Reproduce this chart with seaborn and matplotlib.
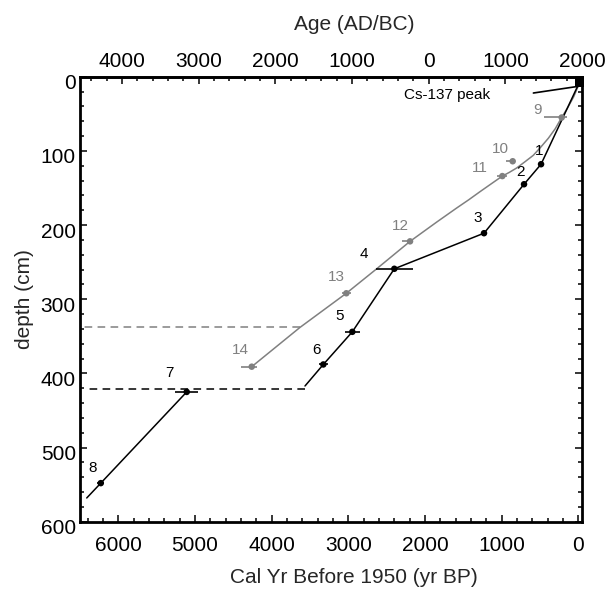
import numpy as np
import pandas as pd
import matplotlib
matplotlib.use("Agg")
import matplotlib.pyplot as plt
import matplotlib.transforms as mtransforms
from matplotlib.ticker import MultipleLocator, FixedLocator, FuncFormatter
import seaborn as sns

# ---------------- data ----------------
# black series (dated points 1-8)
black_labels = ['1', '2', '3', '4', '5', '6', '7', '8']
black_bp = [486, 708, 1230, 2400, 2948, 3326, 5108, 6229]
black_depth = [118, 145, 211, 259, 344, 388, 425, 548]
black_err = [20, 25, 30, 240, 100, 60, 150, 45]
black_label_bp = [509, 760, 1308, 2791, 3117, 3421, 5335, 6339]
black_label_depth = [100, 129, 190, 239, 323, 369, 400, 527]

# black age-depth model
black_model_upper_bp = [-13, 486, 708, 1230, 2400, 2948, 3326, 3565]
black_model_upper_depth = [8, 118, 145, 211, 259, 344, 388, 417]
black_model_lower_bp = [5108, 6229, 6412]
black_model_lower_depth = [425, 548, 568]
black_hiatus_bp = [3565, 6392]
black_hiatus_depth = [421, 421]

# grey series (dated points 9-14)
grey_labels = ['9', '10', '11', '12', '13', '14']
grey_bp = [217, 856, 991, 2195, 3026, 4260]
grey_depth = [55, 114, 134, 222, 292, 391]
grey_err_lo = [66, 30, 57, 35, 65, 66]
grey_err_hi = [230, 87, 65, 108, 60, 143]
grey_label_bp = [535, 1012, 1282, 2326, 3160, 4403]
grey_label_depth = [45, 98, 123, 201, 270, 369]

# grey age-depth model
grey_model_bp = [-9, 60, 140, 217, 300, 391, 490, 587, 700, 803, 900, 991,
                 1130, 1282, 1430, 1586, 1847, 2195, 2630, 3026, 3630, 4260]
grey_model_depth = [10, 27, 42, 55, 70, 83, 95, 106, 115, 123, 129, 134,
                    144, 155, 166, 177, 196, 222, 259, 292, 338, 391]
grey_hiatus_bp = [3630, 6500]
grey_hiatus_depth = [338, 338]

# Cs-137 marker
cs_bp = [-13]
cs_depth = [8]
cs_line_bp = [586, 0]
cs_line_depth = [22, 13]
cs_text = "Cs-137 peak"

# top axis ticks (AD/BC)
age_ticks = [-4000, -3000, -2000, -1000, 0, 1000, 2000]

BLACK = '#000000'
GREY = '#808080'

# ---------------- plot ----------------
sns.set_theme(style="white")
plt.rcParams['font.family'] = ['Liberation Sans', 'DejaVu Sans']

fig = plt.figure(figsize=(6.08, 5.91), dpi=100)
ax = fig.add_axes([80 / 608, 1 - 521.7 / 591, 502.3 / 608, 445 / 591])


def line(xs, ys, color, ls='-', lw=1.1):
    df = pd.DataFrame({'bp': xs, 'depth': ys, 'i': range(len(xs))})
    sns.lineplot(data=df, x='bp', y='depth', sort=False, estimator=None,
                 color=color, linestyle=ls, linewidth=lw, ax=ax)


line(grey_model_bp, grey_model_depth, GREY)
line(grey_hiatus_bp, grey_hiatus_depth, GREY, ls=(0, (5, 3.5)))
line(black_model_upper_bp, black_model_upper_depth, BLACK)
line(black_model_lower_bp, black_model_lower_depth, BLACK)
line(black_hiatus_bp, black_hiatus_depth, BLACK, ls=(0, (5, 3.5)))
line(cs_line_bp, cs_line_depth, BLACK, lw=1.2)

# error bars
ax.errorbar(grey_bp, grey_depth, xerr=[grey_err_lo, grey_err_hi], fmt='none',
            ecolor=GREY, elinewidth=1.2, capsize=0)
ax.errorbar(black_bp, black_depth, xerr=black_err, fmt='none',
            ecolor=BLACK, elinewidth=1.2, capsize=0)

# points
sns.scatterplot(x=grey_bp, y=grey_depth, color=GREY, s=22, edgecolor='none', ax=ax, zorder=4)
sns.scatterplot(x=black_bp, y=black_depth, color=BLACK, s=22, edgecolor='none', ax=ax, zorder=4)
sns.scatterplot(x=cs_bp, y=cs_depth, color=BLACK, s=45, marker='s', edgecolor='none',
                ax=ax, zorder=5, clip_on=False)

# labels
for t, x, y in zip(black_labels, black_label_bp, black_label_depth):
    ax.text(x, y, t, color=BLACK, fontsize=11, ha='center', va='center')
for t, x, y in zip(grey_labels, grey_label_bp, grey_label_depth):
    ax.text(x, y, t, color=GREY, fontsize=11, ha='center', va='center')
ax.text(1715, 24, cs_text, color=BLACK, fontsize=11, ha='center', va='center')

# axes
ax.set_xlim(6500, -52)
ax.set_ylim(600, 0)
ax.xaxis.set_major_locator(MultipleLocator(1000))
ax.xaxis.set_minor_locator(MultipleLocator(200))
ax.yaxis.set_major_locator(MultipleLocator(100))
ax.yaxis.set_minor_locator(MultipleLocator(20))

for s in ax.spines.values():
    s.set_linewidth(2)
    s.set_color('black')
    s.set_visible(True)

ax.tick_params(axis='both', which='both', direction='in', colors='black',
               top=False, right=True, bottom=True, left=True)
ax.tick_params(which='major', length=5, width=1.1)
ax.tick_params(which='minor', length=3, width=1.1)
ax.tick_params(axis='x', which='major', labelsize=15, pad=10)
ax.tick_params(axis='y', which='major', labelsize=15, pad=3)

ax.set_xlabel('Cal Yr Before 1950 (yr BP)', fontsize=15)
ax.set_ylabel('depth (cm)', fontsize=15)
ax.xaxis.set_label_coords((354 - 80) / 502.3, -0.105)
ax.yaxis.set_label_coords(-0.092, 0.5)

# shift y tick labels slightly downward like the reference
offset = mtransforms.ScaledTranslation(0, -5 / 100, fig.dpi_scale_trans)
for lab in ax.get_yticklabels():
    lab.set_transform(lab.get_transform() + offset)

# top axis in AD/BC
top = ax.secondary_xaxis('top', functions=(lambda bp: 1950 - bp, lambda ad: 1950 - ad))
top.xaxis.set_major_locator(FixedLocator(age_ticks))
top.xaxis.set_minor_locator(MultipleLocator(200))
top.xaxis.set_major_formatter(FuncFormatter(lambda v, p: f"{abs(int(round(v)))}"))
top.tick_params(which='both', direction='in', colors='black')
top.tick_params(which='major', length=5, width=1.1, labelsize=15, pad=4)
top.tick_params(which='minor', length=3, width=1.1)
top.spines['top'].set_linewidth(2)
top.set_xlabel('Age (AD/BC)', fontsize=15)
top.xaxis.set_label_coords((354 - 80) / 502.3, 1 + (76.7 - 30) / 445,
                           transform=ax.transAxes)

if ax.get_legend():
    ax.get_legend().remove()

fig.savefig('out.png', dpi=100, facecolor='white')
